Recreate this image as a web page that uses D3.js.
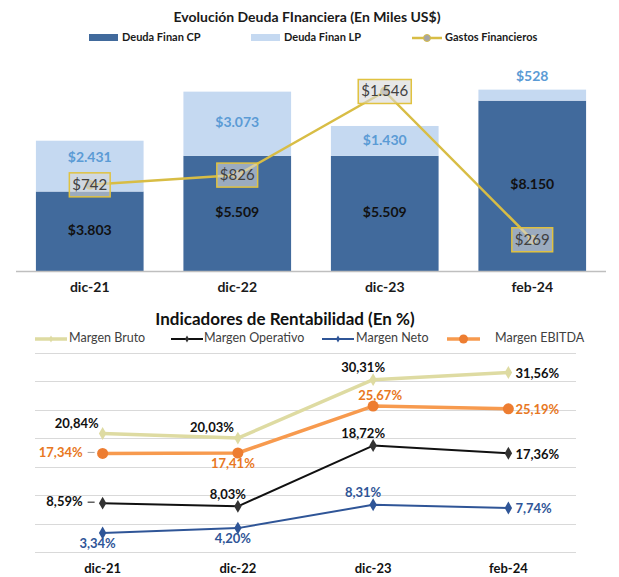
<!DOCTYPE html>
<html>
<head>
<meta charset="utf-8">
<script src="https://cdn.jsdelivr.net/npm/d3@7"></script>
<style>
  body { margin: 0; background: #fff; }
  svg { display: block; font-family: Lato, "Open Sans", sans-serif; }
</style>
</head>
<body>
<script>
// ---- data ----
const periods = ["dic-21", "dic-22", "dic-23", "feb-24"];
const deudaCP = [3803, 5509, 5509, 8150];
const deudaLP = [2431, 3073, 1430, 528];
const gastosFin = [742, 826, 1546, 269];

const margenBruto = [20.84, 20.03, 30.31, 31.56];
const margenOperativo = [8.59, 8.03, 18.72, 17.36];
const margenNeto = [3.34, 4.20, 8.31, 7.74];
const margenEbitda = [17.34, 17.41, 25.67, 25.19];

const locale = d3.formatLocale({ decimal: ",", thousands: ".", grouping: [3], currency: ["$", ""] });
const fmtMoney = locale.format("$,.0f");
const fmtPct = v => locale.format(".2f")(v) + "%";

const width = 619, height = 577;
const svg = d3.select("body").append("svg")
    .attr("width", width)
    .attr("height", height);

// ================= top chart =================
const cpColor = "#416a9c", lpColor = "#c5d9f1", gastoColor = "#d8bd45";

svg.append("text")
    .attr("x", 307).attr("y", 18)
    .attr("text-anchor", "middle").attr("dominant-baseline", "middle")
    .attr("font-size", "14px").attr("font-weight", "bold").attr("fill", "#1a1a1a")
    .text("Evolución Deuda FInanciera (En Miles US$)");

// legend
const topLegend = svg.append("g").attr("font-size", "11px").attr("font-weight", "bold").attr("fill", "#1a1a1a");
topLegend.append("rect").attr("x", 89).attr("y", 34).attr("width", 29).attr("height", 7).attr("fill", cpColor);
topLegend.append("text").attr("x", 122).attr("y", 38).attr("dominant-baseline", "middle").text("Deuda Finan CP");
topLegend.append("rect").attr("x", 251).attr("y", 34).attr("width", 29).attr("height", 7).attr("fill", lpColor);
topLegend.append("text").attr("x", 284).attr("y", 38).attr("dominant-baseline", "middle").text("Deuda Finan LP");
topLegend.append("line").attr("x1", 412).attr("x2", 442).attr("y1", 38).attr("y2", 38)
    .attr("stroke", gastoColor).attr("stroke-width", 2.5);
topLegend.append("circle").attr("cx", 427).attr("cy", 38).attr("r", 3.5)
    .attr("fill", "#a5a5a5").attr("stroke", gastoColor).attr("stroke-width", 1);
topLegend.append("text").attr("x", 445).attr("y", 38).attr("dominant-baseline", "middle").text("Gastos Financieros");

const xTop = d3.scaleBand().domain(periods).range([16, 606]).paddingInner(0.27).paddingOuter(0.135);
const yBar = d3.scaleLinear().domain([0, 10000]).range([271, 62]);
const yGasto = d3.scaleLinear().domain([0, 1800]).range([271, 62]);

const barData = periods.map((p, i) => ({ p, cp: deudaCP[i], lp: deudaLP[i], g: gastosFin[i] }));

const bars = svg.append("g");
bars.selectAll(".cp").data(barData).join("rect")
    .attr("x", d => xTop(d.p)).attr("width", xTop.bandwidth())
    .attr("y", d => yBar(d.cp)).attr("height", d => yBar(0) - yBar(d.cp))
    .attr("fill", cpColor);
bars.selectAll(".lp").data(barData).join("rect")
    .attr("x", d => xTop(d.p)).attr("width", xTop.bandwidth())
    .attr("y", d => yBar(d.cp + d.lp)).attr("height", d => yBar(d.cp) - yBar(d.cp + d.lp))
    .attr("fill", lpColor);

// axis
svg.append("line").attr("x1", 16).attr("x2", 606).attr("y1", 271.5).attr("y2", 271.5)
    .attr("stroke", "#bfbfbf").attr("stroke-width", 1.5);
svg.append("g").selectAll("text").data(periods).join("text")
    .attr("x", d => xTop(d) + xTop.bandwidth() / 2).attr("y", 288)
    .attr("text-anchor", "middle").attr("dominant-baseline", "middle")
    .attr("font-size", "14px").attr("font-weight", "bold").attr("fill", "#1a1a1a")
    .text(d => d);

// bar labels
const barLabels = svg.append("g").attr("font-size", "14px").attr("font-weight", "bold")
    .attr("text-anchor", "middle").attr("dominant-baseline", "middle");
barLabels.selectAll(".cpl").data(barData).join("text")
    .attr("x", d => xTop(d.p) + xTop.bandwidth() / 2)
    .attr("y", d => (yBar(0) + yBar(d.cp)) / 2)
    .attr("fill", "#111")
    .text(d => fmtMoney(d.cp));
barLabels.selectAll(".lpl").data(barData).join("text")
    .attr("x", d => xTop(d.p) + xTop.bandwidth() / 2)
    .attr("y", d => {
        const top = yBar(d.cp + d.lp), bot = yBar(d.cp);
        let y = bot - top < 22 ? top - 12 : (top + bot) / 2;
        // keep clear of the gastos label box
        const gy = yGasto(d.g);
        if (Math.abs(y - gy) < 26) y = gy - 26;
        return y;
    })
    .attr("fill", "#5b9bd5")
    .text(d => fmtMoney(d.lp));

// gastos line
const gLine = d3.line()
    .x(d => xTop(d.p) + xTop.bandwidth() / 2)
    .y(d => yGasto(d.g));
svg.append("path").datum(barData)
    .attr("fill", "none").attr("stroke", gastoColor).attr("stroke-width", 2.5)
    .attr("d", gLine);
svg.append("g").selectAll("circle").data(barData).join("circle")
    .attr("cx", d => xTop(d.p) + xTop.bandwidth() / 2).attr("cy", d => yGasto(d.g))
    .attr("r", 4).attr("fill", "#a5a5a5").attr("stroke", gastoColor).attr("stroke-width", 1.5);

const gLabels = svg.append("g");
barData.forEach(d => {
    const cx = xTop(d.p) + xTop.bandwidth() / 2, cy = yGasto(d.g);
    const g = gLabels.append("g");
    const rect = g.append("rect");
    const t = g.append("text")
        .attr("x", cx).attr("y", cy + 1)
        .attr("text-anchor", "middle").attr("dominant-baseline", "middle")
        .attr("font-size", "15px").attr("fill", "#404040")
        .text(fmtMoney(d.g));
    const w = t.node().getComputedTextLength() + 6;
    rect.attr("x", cx - w / 2).attr("y", cy - 12).attr("width", w).attr("height", 24)
        .attr("fill", "rgba(215,215,215,0.6)").attr("stroke", "#e0c240").attr("stroke-width", 1.5);
});

// ================= bottom chart =================
svg.append("text")
    .attr("x", 285).attr("y", 321)
    .attr("text-anchor", "middle").attr("dominant-baseline", "middle")
    .attr("font-size", "17px").attr("font-weight", "bold").attr("fill", "#111")
    .text("Indicadores de Rentabilidad (En %)");

const xBot = d3.scaleBand().domain(periods).range([35, 576]);
const yBot = d3.scaleLinear().domain([0, 35]).range([552, 353]);
const cx = p => xBot(p) + xBot.bandwidth() / 2;

svg.append("g").selectAll("line").data(yBot.ticks(7)).join("line")
    .attr("x1", 35).attr("x2", 576)
    .attr("y1", d => Math.round(yBot(d)) + 0.5).attr("y2", d => Math.round(yBot(d)) + 0.5)
    .attr("stroke", "#d9d9d9").attr("stroke-width", 1);

svg.append("g").selectAll("text").data(periods).join("text")
    .attr("x", d => cx(d)).attr("y", 570)
    .attr("text-anchor", "middle").attr("dominant-baseline", "middle")
    .attr("font-size", "13px").attr("font-weight", "bold").attr("fill", "#111")
    .text(d => d);

// label placements: L left (leader), R right, A above, B below, AL above-left
const series = [
    { name: "Margen Bruto", values: margenBruto, color: "#dedba2", label: "#111", width: 3.5, marker: "diamond", place: ["AL", "AL", "A", "R"] },
    { name: "Margen EBITDA", values: margenEbitda, color: "#f79a4e", markerColor: "#ed7d31", label: "#e87722", width: 3.5, marker: "circle", place: ["L", "B", "A2", "R"] },
    { name: "Margen Operativo", values: margenOperativo, color: "#111", markerColor: "#333", label: "#111", width: 2, marker: "diamond", place: ["L", "A", "A", "R"] },
    { name: "Margen Neto", values: margenNeto, color: "#2f5597", label: "#2f5597", width: 2, marker: "diamond", place: ["B", "B", "A", "R"] }
];

const offsets = {
    L: { anchor: "end", dx: -20, dy: 0 },
    R: { anchor: "start", dx: 7, dy: 2 },
    A: { anchor: "middle", dx: -10, dy: -11 },
    A2: { anchor: "middle", dx: 7, dy: -9 },
    B: { anchor: "middle", dx: -5, dy: 12 },
    AL: { anchor: "end", dx: -4, dy: -9 }
};

const lineGen = d3.line().x(d => cx(d.p)).y(d => yBot(d.v));
const diamond = d3.symbol(d3.symbolDiamond, 48);

series.forEach(s => {
    const pts = periods.map((p, i) => ({ p, v: s.values[i] }));
    const g = svg.append("g");
    g.append("path").datum(pts)
        .attr("fill", "none").attr("stroke", s.color).attr("stroke-width", s.width)
        .attr("stroke-linejoin", "round").attr("d", lineGen);
    const mc = s.markerColor || s.color;
    if (s.marker === "circle") {
        g.selectAll("circle").data(pts).join("circle")
            .attr("cx", d => cx(d.p)).attr("cy", d => yBot(d.v)).attr("r", 5.5).attr("fill", mc);
    } else {
        g.selectAll(".mk").data(pts).join("path")
            .attr("transform", d => `translate(${cx(d.p)},${yBot(d.v)})`)
            .attr("d", diamond).attr("fill", mc);
    }
    pts.forEach((d, i) => {
        const o = offsets[s.place[i]];
        const px = cx(d.p), py = yBot(d.v);
        if (s.place[i] === "L") {
            g.append("line").attr("x1", px - 15).attr("x2", px - 8).attr("y1", py - 1).attr("y2", py - 1)
                .attr("stroke", s.label === "#111" ? "#111" : "#a6a6a6").attr("stroke-width", 1);
        }
        g.append("text")
            .attr("x", px + o.dx).attr("y", py + o.dy)
            .attr("text-anchor", o.anchor).attr("dominant-baseline", "middle")
            .attr("font-size", "13px").attr("font-weight", "bold").attr("fill", s.label)
            .text(fmtPct(d.v));
    });
});

// bottom legend
const legItems = [
    { s: series[0], x: 35, tx: 69 },
    { s: series[2], x: 171, tx: 204 },
    { s: series[3], x: 322, tx: 356 },
    { s: series[1], x: 447, tx: 495 }
];
const botLegend = svg.append("g");
legItems.forEach(it => {
    const w = it.s.marker === "circle" ? 33 : 32;
    botLegend.append("line").attr("x1", it.x).attr("x2", it.x + w).attr("y1", 339).attr("y2", 339)
        .attr("stroke", it.s.color).attr("stroke-width", it.s.width);
    const mc = it.s.markerColor || it.s.color;
    if (it.s.marker === "circle") {
        botLegend.append("circle").attr("cx", it.x + w / 2).attr("cy", 339).attr("r", 4.5).attr("fill", mc);
    } else {
        botLegend.append("path").attr("transform", `translate(${it.x + w / 2},339)`)
            .attr("d", d3.symbol(d3.symbolDiamond, 14)).attr("fill", mc);
    }
    botLegend.append("text").attr("x", it.tx).attr("y", 339).attr("dominant-baseline", "middle")
        .attr("font-size", "12.5px").attr("fill", "#404040").text(it.s.name);
});
</script>
</body>
</html>
